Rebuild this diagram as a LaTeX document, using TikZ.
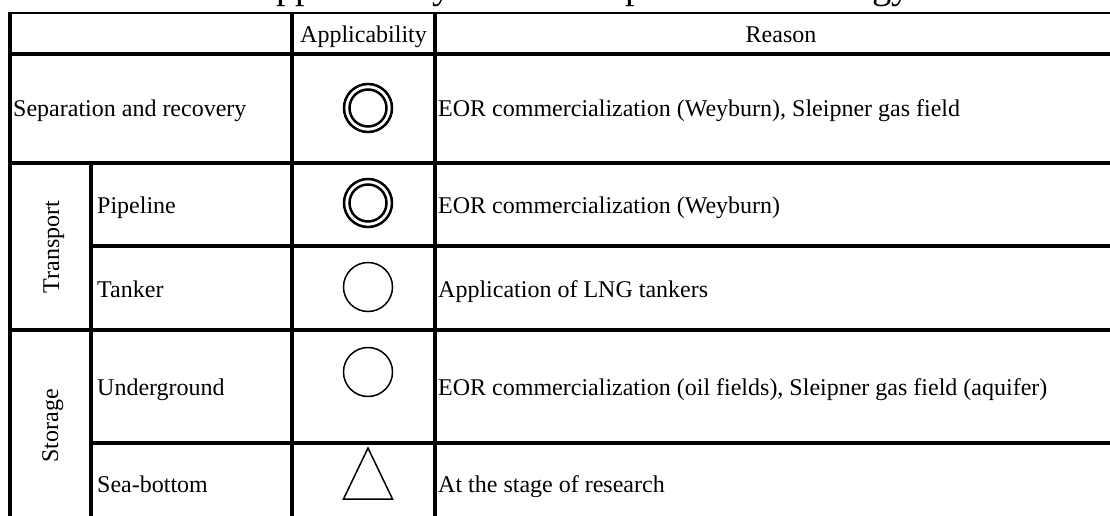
\documentclass[tikz,border=0pt]{standalone}
\usepackage{fontspec}
\setmainfont{Liberation Serif}
\begin{document}
\begin{tikzpicture}[x=1pt,y=-1pt,
  body/.style={inner sep=0pt,font=\fontsize{24}{28}\selectfont},
  thin rule/.style={line width=1.5pt},
  rule/.style={line width=3.2pt},
  thick rule/.style={line width=4pt},
  dbl/.style={line width=2.5pt},
  sym/.style={line width=1.5pt}]
\useasboundingbox (0,0) rectangle (1110,516);
\clip (0,0) rectangle (1110,516);
% title (top cut off)
\node[inner sep=0pt,anchor=base west,font=\fontsize{38.5}{44}\selectfont] (title) at (248,-1.5) {Applicability of the component technology};
% grid
\draw[thin rule] (10,13) -- (1130,13);
\draw[thick rule] (10,12) -- (10,530);
\draw[thick rule] (8,54) -- (1130,54);
\draw[rule] (292,13) -- (292,530);
\draw[rule] (435,13) -- (435,530);
\draw[rule] (91,163) -- (91,530);
\draw[rule] (10,163) -- (1130,163);
\draw[rule] (91,246) -- (1130,246);
\draw[rule] (10,330) -- (1130,330);
\draw[rule] (91,443) -- (1130,443);
% header
\node[body,anchor=base] (hA) at (363.5,43) {Applicability};
\node[body,anchor=base] (hR) at (781,43) {Reason};
% first column
\node[body,anchor=base west] (sep) at (13,117) {Separation and recovery};
\node[body,anchor=base,rotate=90] (trans) at (59,247) {Transport};
\node[body,anchor=base,rotate=90] (stor) at (58,426) {Storage};
\node[body,anchor=base west] (pipe) at (97,213) {Pipeline};
\node[body,anchor=base west] (tank) at (97,297) {Tanker};
\node[body,anchor=base west] (under) at (97,395) {Underground};
\node[body,anchor=base west] (sea) at (97,492) {Sea-bottom};
% symbols
\draw[dbl] (368,108) circle (24) (368,108) circle (18.5);
\draw[dbl] (368,203) circle (24) (368,203) circle (18.5);
\draw[sym] (368,287) circle (24.5);
\draw[sym] (368,372) circle (24.5);
\draw[sym,line join=miter] (368,448) -- (392.5,499) -- (343.5,499) -- cycle;
% reasons
\node[body,anchor=base west] (r1) at (438,117) {EOR commercialization (Weyburn), Sleipner gas field};
\node[body,anchor=base west] (r2) at (438,213) {EOR commercialization (Weyburn)};
\node[body,anchor=base west] (r3) at (438,297) {Application of LNG tankers};
\node[body,anchor=base west] (r4) at (438,395) {EOR commercialization (oil fields), Sleipner gas field (aquifer)};
\node[body,anchor=base west] (r5) at (438,492) {At the stage of research};
\end{tikzpicture}
\end{document}
